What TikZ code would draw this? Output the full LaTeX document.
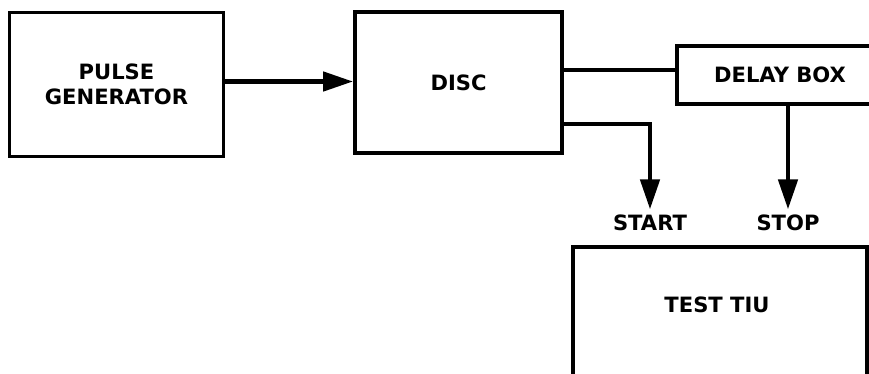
\documentclass[tikz,border=0pt]{standalone}
\usepackage{fontspec}
\setsansfont{DejaVu Sans}
\usetikzlibrary{arrows.meta,positioning,calc}

\begin{document}
\begin{tikzpicture}[
  x=0.02cm, y=-0.02cm,
  block/.style={rectangle,draw=black,line width=2.2pt,align=center,
                font=\sffamily\bfseries\fontsize{12}{14}\selectfont,inner sep=0pt},
  tag/.style={font=\sffamily\bfseries\fontsize{12}{14}\selectfont,inner sep=3pt},
  wire/.style={line width=2.6pt,black},
  sig/.style={wire,-{Triangle[length=0.6cm,width=0.38cm]}}
]
  \clip (0,0) rectangle (869,373);
  \fill[white] (0,0) rectangle (869,373);

  \node[block,minimum width=4.28cm,minimum height=2.88cm] (pgen)  at (116.5,84.5) {PULSE\\GENERATOR};
  \node[block,minimum width=4.14cm,minimum height=2.82cm] (disc)  at (458.5,82.5) {DISC};
  \node[block,minimum width=4.12cm,minimum height=1.16cm] (delay) at (780,75)     {DELAY BOX};
  \node[block,minimum width=5.88cm,minimum height=3.46cm] (tiu)   at (720,333.5)  {};
  \node[tag] (tiulbl) at (717,305) {TEST TIU};

  \node[tag] (start) at (650,223) {START};
  \node[tag] (stop)  at (788,223) {STOP};

  \draw[sig]  ([yshift=0.02cm]disc.west -| pgen.east) -- ([yshift=0.02cm]disc.west);
  \draw[wire] ([yshift=0.1cm]delay.west -| disc.east) -- ([yshift=0.1cm]delay.west);
  \draw[sig]  ([yshift=-0.83cm]disc.east) -| (start.north);
  \draw[sig]  (stop.north |- delay.south) -- (stop.north);
\end{tikzpicture}
\end{document}
